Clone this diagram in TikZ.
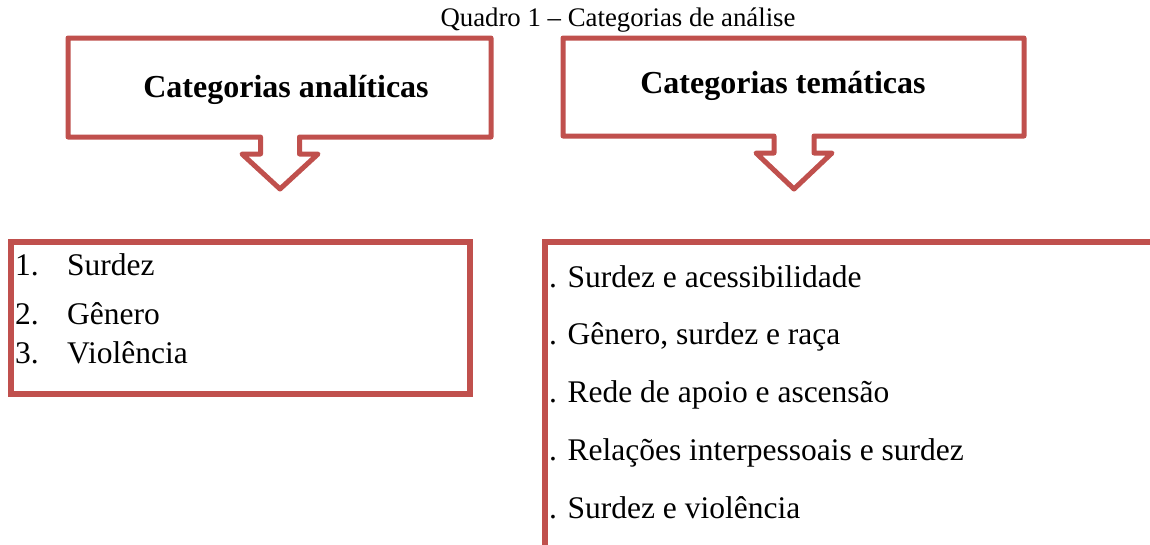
\documentclass[tikz,border=0pt]{standalone}
\usepackage{fontspec}
\setmainfont{Liberation Serif}
\definecolor{callred}{HTML}{C0504D}
\begin{document}
\begin{tikzpicture}[x=1pt,y=-1pt,
  callout/.style={draw=callred,line width=5pt,line join=round,fill=white},
  listbox/.style={draw=callred,line width=6pt,fill=white},
  titletext/.style={font=\fontsize{32}{38}\selectfont\bfseries,anchor=base,inner sep=0pt},
  itemtext/.style={font=\fontsize{31.5}{38}\selectfont,anchor=base west,inner sep=0pt},
  captiontext/.style={font=\fontsize{26.8}{32}\selectfont,anchor=base,inner sep=0pt}]
\useasboundingbox (0,0) rectangle (1150,544);
\clip (0,0) rectangle (1150,544);
\fill[white] (0,0) rectangle (1150,544);

% caption
\node[captiontext] (cap) at (618,26) {Quadro 1 – Categorias de análise};

% left callout
\draw[callout] (68,38) -- (491,38) -- (491,137) -- (299.5,137) -- (299.5,154)
  -- (318,154) -- (280,189) -- (242,154) -- (260.5,154) -- (260.5,137)
  -- (68,137) -- cycle;
\node[titletext] (t1) at (286,97) {Categorias analíticas};

% right callout
\draw[callout] (563,38) -- (1024,38) -- (1024,136) -- (814,136) -- (814,153)
  -- (832,153) -- (794,189) -- (756,153) -- (774,153) -- (774,136)
  -- (563,136) -- cycle;
\node[titletext] (t2) at (783,93) {Categorias temáticas};

% left list
\draw[listbox] (11,242) rectangle (470,394);
\node[itemtext] (a1) at (15,275) {\makebox[52pt][l]{1.}Surdez};
\node[itemtext] (a2) at (15,324) {\makebox[52pt][l]{2.}Gênero};
\node[itemtext] (a3) at (15,363) {\makebox[52pt][l]{3.}Violência};

% right list
\draw[listbox] (544.5,242) rectangle (1160,547.5);
\node[itemtext] (b1) at (549,287) {. Surdez e acessibilidade};
\node[itemtext] (b2) at (549,344) {. Gênero, surdez e raça};
\node[itemtext] (b3) at (549,402) {. Rede de apoio e ascensão};
\node[itemtext] (b4) at (549,460) {. Relações interpessoais e surdez};
\node[itemtext] (b5) at (549,518) {. Surdez e violência};
\end{tikzpicture}
\end{document}
